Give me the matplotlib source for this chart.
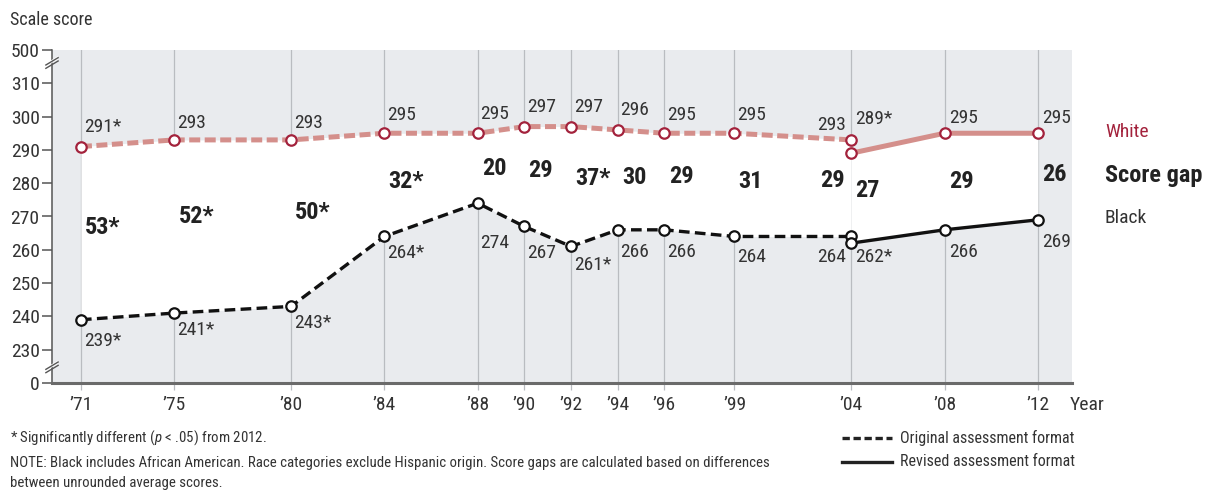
import matplotlib.pyplot as plt
from matplotlib.lines import Line2D
from matplotlib.transforms import blended_transform_factory

plt.rcParams['font.family'] = ['Roboto Condensed', 'DejaVu Sans']
plt.rcParams['mathtext.fontset'] = 'custom'
plt.rcParams['mathtext.rm'] = 'Roboto Condensed'
plt.rcParams['mathtext.it'] = 'Roboto Condensed:italic'

# data
years_orig = [1971, 1975, 1980, 1984, 1988, 1990, 1992, 1994, 1996, 1999, 2004]
years_rev = [2004, 2008, 2012]
white_orig = [291, 293, 293, 295, 295, 297, 297, 296, 295, 295, 293]
white_rev = [289, 295, 295]
black_orig = [239, 241, 243, 264, 274, 267, 261, 266, 266, 264, 264]
black_rev = [262, 266, 269]
white_orig_lbl = ['291*', '293', '293', '295', '295', '297', '297', '296', '295', '295', '293']
white_rev_lbl = ['289*', '295', '295']
black_orig_lbl = ['239*', '241*', '243*', '264*', '274', '267', '261*', '266', '266', '264', '264']
black_rev_lbl = ['262*', '266', '269']
gap_years = [1971, 1975, 1980, 1984, 1988, 1990, 1992, 1994, 1996, 1999, 2004, 2004, 2008, 2012]
gap_lbl = ['53*', '52*', '50*', '32*', '20', '29', '37*', '30', '29', '31', '29', '27', '29', '26']
tick_years = [1971, 1975, 1980, 1984, 1988, 1990, 1992, 1994, 1996, 1999, 2004, 2008, 2012]
tick_lbl = ['\u201971', '\u201975', '\u201980', '\u201984', '\u201988', '\u201990', '\u201992',
            '\u201994', '\u201996', '\u201999', '\u201904', '\u201908', '\u201912']
y_ticks = [220, 230, 240, 250, 260, 270, 280, 290, 300, 310, 320]
y_tick_lbl = ['0', '230', '240', '250', '260', '270', '280', '290', '300', '310', '500']

# layout (label offsets in points, gap label heights)
w_orig_dy = [14, 12, 12, 13, 14, 14, 14, 14, 13, 13, 11]
w_rev_dy = [25, 11, 11]
b_orig_dy = [-15, -12, -12, -12, -29, -19, -13, -16, -16, -15, -15]
b_rev_dy = [-10, -16, -16]
gap_y = [266.7, 270, 271.2, 280.5, 284.4, 283.8, 281.4, 281.7, 282, 280.5, 280.8, 277.8, 280.5, 282.6]

bg = '#e9ebee'
pink = '#d48f8b'
red = '#a3223c'
txt = '#333333'

fig = plt.figure(figsize=(12.19, 4.93), dpi=100)
ax = fig.add_axes([52 / 1219, 110 / 493, 1020 / 1219, 333 / 493])
ax.set_facecolor(bg)
ax.set_xlim(1969.76, 2013.46)
ax.set_ylim(220, 320)

for yr in tick_years:
    ax.axvline(yr, color='#b9bcc0', lw=0.9, zorder=1)

# white band between the two groups
ax.fill_between(years_orig, black_orig, white_orig, color='white', zorder=2, lw=0)
ax.fill_between(years_rev, black_rev, white_rev, color='white', zorder=2, lw=0)

mk = dict(marker='o', ms=7.5, mfc='white', mew=1.6, zorder=5)
ax.plot(years_orig, white_orig, color=pink, lw=3.6, dashes=(2.2, 0.9), mec=red, **mk)
ax.plot(years_rev, white_rev, color=pink, lw=3.6, mec=red, **mk)
ax.plot(years_orig, black_orig, color='#111111', lw=2.4, dashes=(3.2, 1.6), mec='#111111', **mk)
ax.plot(years_rev, black_rev, color='#111111', lw=2.4, mec='#111111', **mk)

lab = dict(textcoords='offset points', fontsize=14, color=txt, va='center', zorder=6)
for i, (x, y, t) in enumerate(zip(years_orig, white_orig, white_orig_lbl)):
    if x == 2004:
        ax.annotate(t, (x, y), xytext=(-4, w_orig_dy[i]), ha='right', **lab)
    else:
        ax.annotate(t, (x, y), xytext=(2, w_orig_dy[i]), ha='left', **lab)
for i, (x, y, t) in enumerate(zip(years_rev, white_rev, white_rev_lbl)):
    ax.annotate(t, (x, y), xytext=(3, w_rev_dy[i]), ha='left', **lab)
for i, (x, y, t) in enumerate(zip(years_orig, black_orig, black_orig_lbl)):
    if x == 2004:
        ax.annotate(t, (x, y), xytext=(-4, b_orig_dy[i]), ha='right', **lab)
    else:
        ax.annotate(t, (x, y), xytext=(2, b_orig_dy[i]), ha='left', **lab)
for i, (x, y, t) in enumerate(zip(years_rev, black_rev, black_rev_lbl)):
    ax.annotate(t, (x, y), xytext=(3, b_rev_dy[i]), ha='left', **lab)

for i, (x, t) in enumerate(zip(gap_years, gap_lbl)):
    if i == 10:
        ax.annotate(t, (x, gap_y[i]), xytext=(-5, 0), textcoords='offset points', ha='right',
                    va='center', fontsize=17.5, fontweight='bold', color='#222222', zorder=6)
    else:
        ax.annotate(t, (x, gap_y[i]), xytext=(3, 0), textcoords='offset points', ha='left',
                    va='center', fontsize=17.5, fontweight='bold', color='#222222', zorder=6)

# series names on the right
ax.text(2014.87, 295.5, 'White', color=red, fontsize=14, va='center', clip_on=False)
ax.text(2014.87, 282.3, 'Score gap', color='#222222', fontsize=17.5, fontweight='bold',
        va='center', clip_on=False)
ax.text(2014.87, 269.4, 'Black', color=txt, fontsize=14, va='center', clip_on=False)

# axes styling
for s in ['top', 'right']:
    ax.spines[s].set_visible(False)
ax.spines['left'].set_color('#555555')
ax.spines['left'].set_linewidth(1.1)
ax.spines['bottom'].set_color('#6a6a6a')
ax.spines['bottom'].set_linewidth(2.2)
ax.set_yticks(y_ticks)
ax.set_yticklabels(y_tick_lbl)
ax.set_xticks(tick_years)
ax.set_xticklabels(tick_lbl)
ax.tick_params(axis='y', length=7, width=1.1, color='#555555', labelsize=14,
               labelcolor=txt, pad=2)
ax.tick_params(axis='x', length=5, width=0.9, color='#b9bcc0', labelsize=14,
               labelcolor=txt, pad=4)
ax.annotate('Year', xy=(2013.35, 0), xycoords=('data', 'axes fraction'), xytext=(0, -9),
            textcoords='offset points', va='top', ha='left', fontsize=14, color=txt)

# axis breaks
bt = blended_transform_factory(ax.transAxes, ax.transData)
for yb in (316.6, 225.2):
    ax.fill([-0.006, 0.006, 0.006, -0.006], [yb - 1.6, yb + 0.6, yb + 1.6, yb - 0.6],
            transform=bt, color='white', clip_on=False, zorder=7, lw=0)
    for dy in (-0.5, 0.5):
        ax.plot([-0.006, 0.006], [yb - 1.6 + dy, yb + 0.6 + dy], transform=bt,
                color='#555555', lw=1, clip_on=False, zorder=8)

fig.text(10 / 1219, 1 - 20 / 493, 'Scale score', fontsize=13, color=txt, va='center')

# notes
fig.text(10 / 1219, 1 - 438 / 493, r'* Significantly different ($\mathit{p}$ < .05) from 2012.',
         fontsize=10.7, color=txt, va='center')
fig.text(10 / 1219, 1 - 463 / 493,
         'NOTE: Black includes African American. Race categories exclude Hispanic origin. '
         'Score gaps are calculated based on differences',
         fontsize=10.7, color=txt, va='center')
fig.text(10 / 1219, 1 - 483 / 493, 'between unrounded average scores.',
         fontsize=10.7, color=txt, va='center')

# format legend
fig.add_artist(Line2D([842 / 1219, 892 / 1219], [1 - 438 / 493] * 2, color='#222222',
                      lw=2.4, dashes=(2.2, 1.1)))
fig.add_artist(Line2D([842 / 1219, 892 / 1219], [1 - 462 / 493] * 2, color='#222222', lw=2.4))
fig.text(900 / 1219, 1 - 438 / 493, 'Original assessment format', fontsize=11.5,
         color=txt, va='center')
fig.text(900 / 1219, 1 - 462 / 493, 'Revised assessment format', fontsize=11.5,
         color=txt, va='center')

fig.savefig('out.png', dpi=100, facecolor='white')
